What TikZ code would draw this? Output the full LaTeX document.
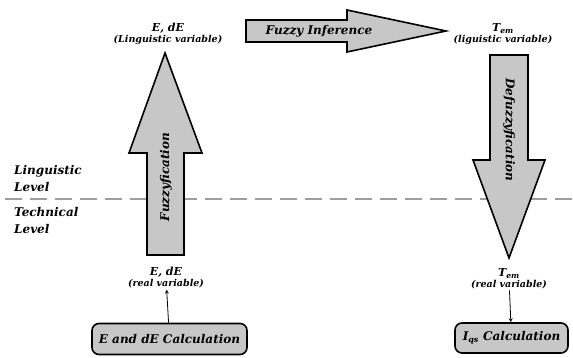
\documentclass[tikz,border=0pt]{standalone}
\usepackage{fontspec}
\setmainfont{DejaVu Serif}
\usetikzlibrary{arrows, positioning, calc}

\tikzset{
  bigarrow/.style={fill=black!22, draw=black, line width=1.6pt, line join=miter},
  calcbox/.style={draw=black, fill=black!22, line width=1.6pt, rounded corners=7pt,
    font=\fontsize{12}{14}\selectfont\bfseries\itshape, inner sep=0pt},
  varlabel/.style={align=center, font=\fontsize{11}{12}\selectfont\bfseries\itshape, inner sep=1pt},
  levellabel/.style={align=left, anchor=north west, inner sep=0pt,
    font=\fontsize{12}{17.5}\selectfont\bfseries\itshape},
  arrowtext/.style={font=\fontsize{12}{14}\selectfont\bfseries\itshape}
}
\newcommand{\subvar}[1]{{\fontsize{9.5}{11}\selectfont #1}}

\begin{document}
\begin{tikzpicture}[>=stealth, x=1pt, y=-1pt]
\useasboundingbox (0,0) rectangle (573,358);

% level separation
\coordinate (dashleft) at (5,199);
\coordinate (dashright) at (573,199);
\draw[black!38, line width=1.4pt, dash pattern=on 17pt off 8pt] (dashleft) -- (dashright);
\node[levellabel] (linglevel) at (14,165) {Linguistic\\Level};
\node[levellabel] (techlevel) at (14,207) {Technical\\Level};

% fuzzyfication
\draw[bigarrow] (147,255) -- (147,153) -- (129,153) -- (165,53) -- (202,153)
    -- (184,153) -- (184,255) -- cycle;
\node[arrowtext, rotate=90] (fuzz) at (166,177) {Fuzzyfication};

% fuzzy inference
\draw[bigarrow] (246,20) -- (347,20) -- (347,10) -- (446,31) -- (347,52)
    -- (347,42) -- (246,42) -- cycle;
\node[arrowtext] (infer) at (319,31) {Fuzzy Inference};

% defuzzyfication
\draw[bigarrow] (490,55) -- (528,55) -- (528,160) -- (545,160) -- (509,258)
    -- (473,160) -- (490,160) -- cycle;
\node[arrowtext, rotate=-90] (defuzz) at (509,130) {Defuzzyfication};

% variables
\node[varlabel] (elin) at (168,34) {E, dE\\[-1pt]\subvar{(Linguistic variable)}};
\node[varlabel] (tlin) at (503,34) {T\textsubscript{em}\\[-1pt]\subvar{(liguistic variable)}};
\node[varlabel] (ereal) at (166,278) {E, dE\\[-1pt]\subvar{(real variable)}};
\node[varlabel] (treal) at (509,279) {T\textsubscript{em}\\[-1pt]\subvar{(real variable)}};

% calculation blocks
\node[calcbox, minimum width=155pt, minimum height=31pt] (ecalc) at (169.5,339) {E and dE Calculation};
\node[calcbox, minimum width=113pt, minimum height=30pt] (iqcalc) at (511.5,338) {I\textsubscript{qs} Calculation};

\draw[->, line width=0.8pt] (ecalc) -- (ereal);
\draw[->, line width=0.8pt] (treal) -- (iqcalc);
\end{tikzpicture}
\end{document}
